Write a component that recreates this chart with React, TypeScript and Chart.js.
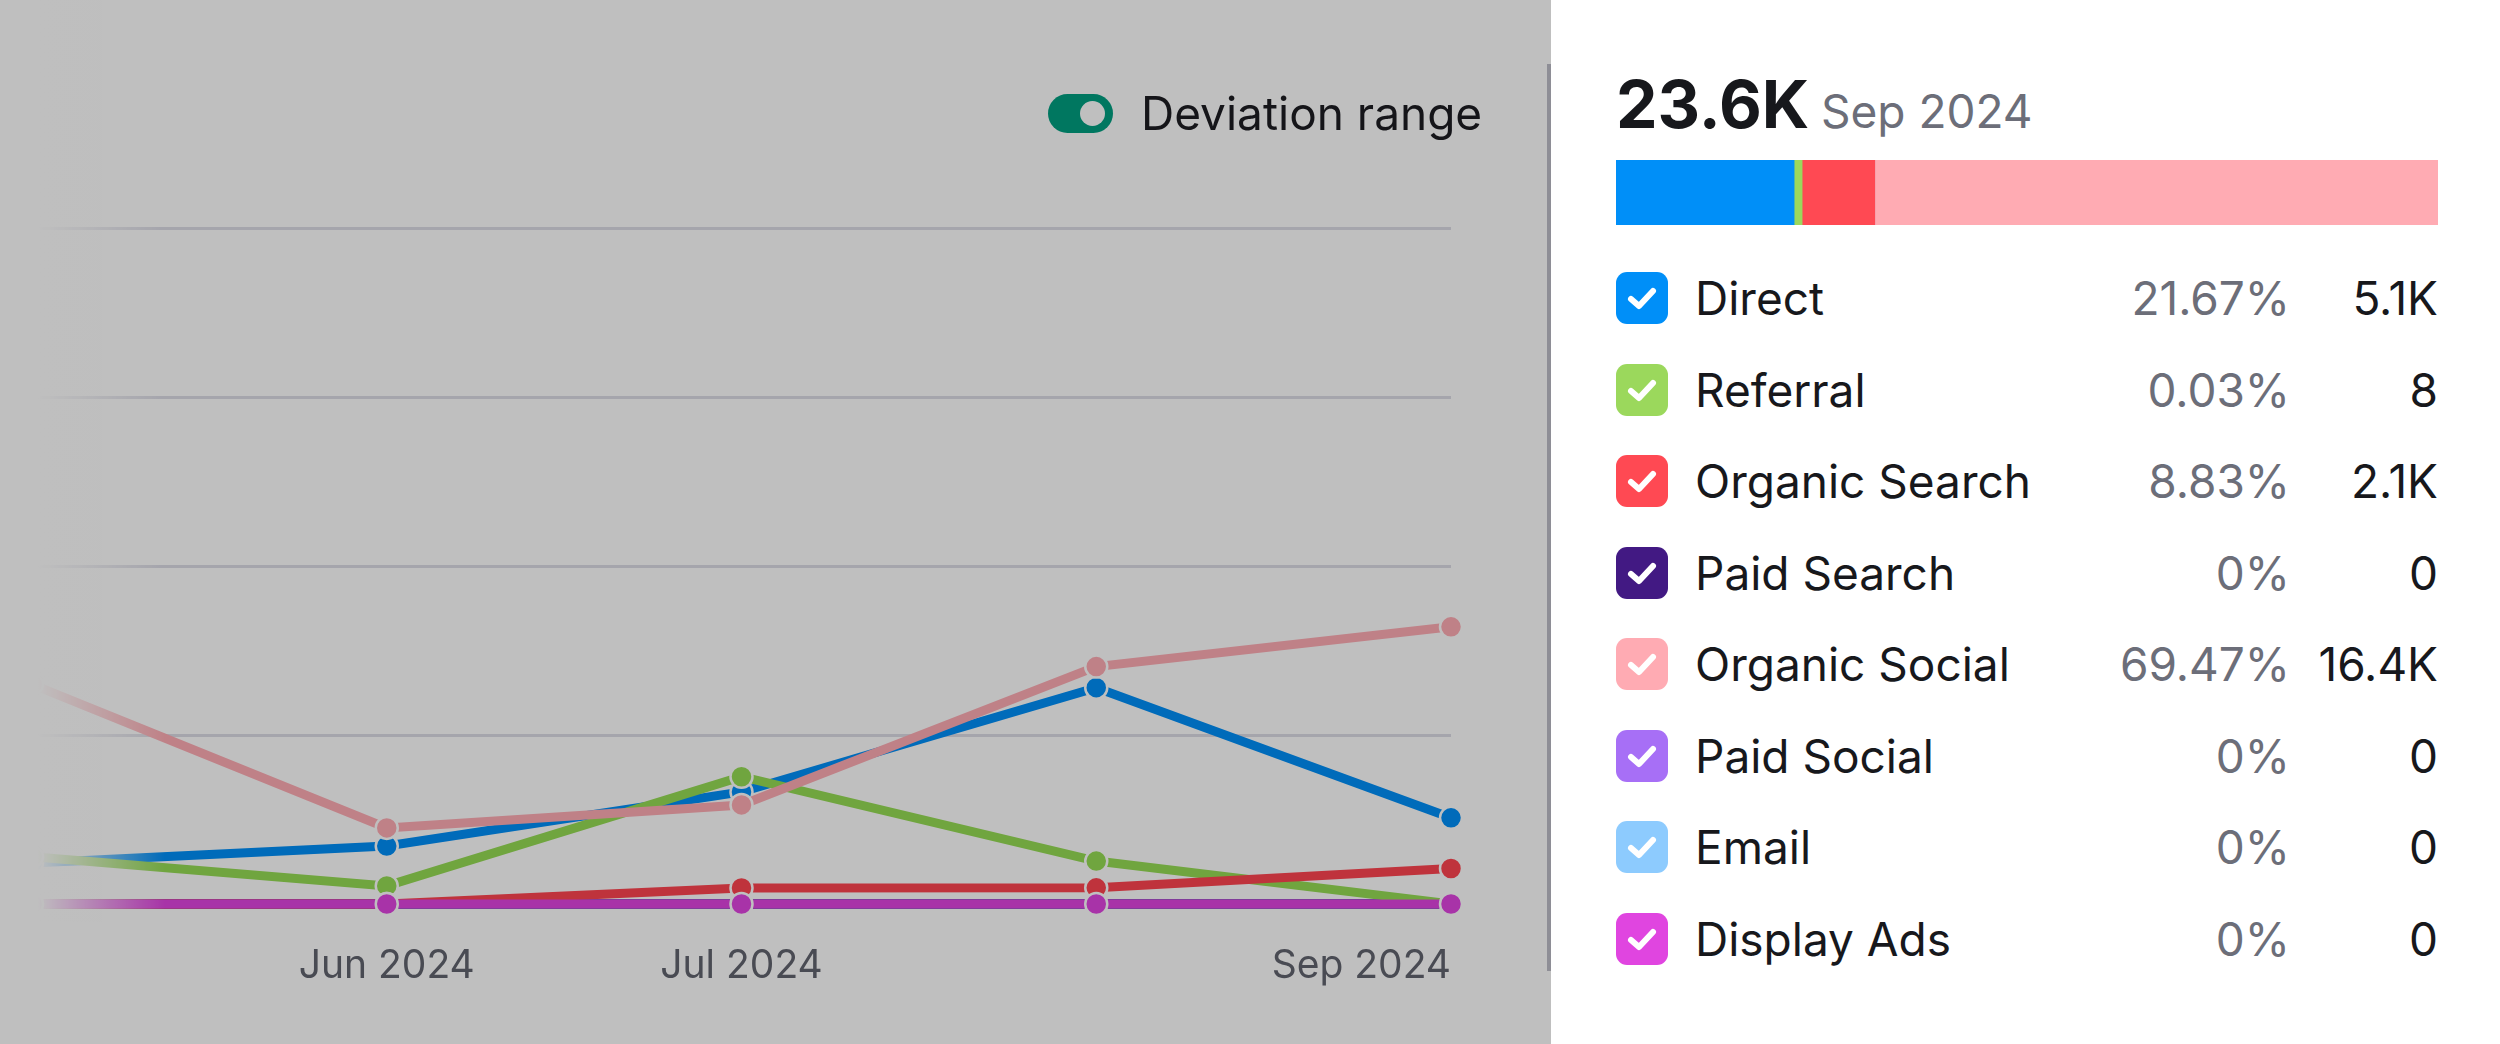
import React, { useEffect, useRef } from "react";
import { Chart, registerables } from "chart.js";

Chart.register(...registerables);

// ---------- data ----------
const months = ["May 2024", "Jun 2024", "Jul 2024", "Aug 2024", "Sep 2024"];
const xTickLabels = ["", "Jun 2024", "Jul 2024", "", "Sep 2024"];

const direct = [2430, 3430, 6630, 12800, 5100];
const referral = [2800, 1070, 7530, 2540, 8];
const organicSearch = [0, 0, 950, 960, 2100];
const paidSearch = [0, 0, 0, 0, 0];
const organicSocial = [13000, 4500, 5860, 14050, 16400];
const paidSocial = [0, 0, 0, 0, 0];
const email = [0, 0, 0, 0, 0];
const displayAds = [0, 0, 0, 0, 0];

const yMin = 0;
const yMax = 40000;
const yStep = 10000;

const channelNames = [
  "Direct",
  "Referral",
  "Organic Search",
  "Paid Search",
  "Organic Social",
  "Paid Social",
  "Email",
  "Display Ads",
];
const channelColors = [
  "#008ff8",
  "#9bd85c",
  "#ff4953",
  "#421983",
  "#ffabb3",
  "#a76ff6",
  "#8dcbfe",
  "#e045e0",
];
const lineColors = [
  "#008ff8",
  "#96dc55",
  "#ff4550",
  "#421983",
  "#ffadb5",
  "#a76ff6",
  "#8dcbfe",
  "#e045e0",
];
const drawOrder = [4, 3, 2, 5, 1, 6, 7, 0];
const sharePercent = [21.67, 0.03, 8.83, 0, 69.47, 0, 0, 0];
const shareLabels = ["21.67%", "0.03%", "8.83%", "0%", "69.47%", "0%", "0%", "0%"];
const valueLabels = ["5.1K", "8", "2.1K", "0", "16.4K", "0", "0", "0"];
const totalLabel = "23.6K";
const periodLabel = "Sep 2024";
const toggleLabel = "Deviation range";

const series = [direct, referral, organicSearch, paidSearch, organicSocial, paidSocial, email, displayAds];

const FONT = "Inter, 'Noto Sans', sans-serif";

const leftFade = {
  id: "leftFade",
  afterDatasetsDraw(chart: any) {
    const { ctx, chartArea } = chart;
    const g = ctx.createLinearGradient(38, 0, 165, 0);
    g.addColorStop(0, "rgba(255,255,255,1)");
    g.addColorStop(1, "rgba(255,255,255,0)");
    ctx.save();
    ctx.fillStyle = g;
    ctx.fillRect(0, 0, 170, chartArea.bottom + 18);
    ctx.restore();
  },
};

function LineChart() {
  const ref = useRef<HTMLCanvasElement | null>(null);
  useEffect(() => {
    if (!ref.current) return;
    const chart = new Chart(ref.current, {
      type: "line",
      data: {
        labels: months,
        datasets: channelNames.map((name, i) => ({
          label: name,
          data: series[i],
          borderColor: lineColors[i],
          backgroundColor: lineColors[i],
          pointBackgroundColor: lineColors[i],
          pointBorderColor: "#ffffff",
          pointBorderWidth: 2.5,
          pointRadius: 11,
          borderWidth: 9,
          tension: 0,
          fill: false,
          clip: false as any,
          order: drawOrder[i],
        })),
      },
      options: {
        animation: false,
        responsive: false,
        maintainAspectRatio: false,
        layout: { padding: { left: 32, right: 100, top: 228, bottom: 0 } },
        plugins: { legend: { display: false }, tooltip: { enabled: false } },
        scales: {
          x: {
            grid: {
              display: true,
              drawOnChartArea: false,
              drawTicks: true,
              tickLength: 37,
              color: "rgba(0,0,0,0)",
            },
            border: { display: false },
            ticks: {
              autoSkip: false,
              maxRotation: 0,
              align: "inner",
              padding: 2,
              color: "#62646f",
              font: { family: FONT, size: 39 },
              callback: (_v: any, i: number) => xTickLabels[i],
            },
            afterFit: (s: any) => {
              s.height = 140;
            },
          },
          y: {
            min: yMin,
            max: yMax,
            ticks: { display: false, stepSize: yStep },
            grid: { color: "#dcdce6", lineWidth: 3, drawTicks: false },
            border: { display: false },
            afterFit: (s: any) => {
              s.width = 0;
            },
          },
        },
      } as any,
      plugins: [leftFade],
    });
    return () => chart.destroy();
  }, []);
  return (
    <canvas
      ref={ref}
      width={1551}
      height={1044}
      style={{ position: "absolute", left: 0, top: 0, width: 1551, height: 1044 }}
    />
  );
}

function ShareBar() {
  const ref = useRef<HTMLCanvasElement | null>(null);
  useEffect(() => {
    if (!ref.current) return;
    const chart = new Chart(ref.current, {
      type: "bar",
      data: {
        labels: [periodLabel],
        datasets: channelNames.map((name, i) => ({
          label: name,
          data: [sharePercent[i]],
          backgroundColor: channelColors[i],
          borderWidth: 0,
          barPercentage: 1,
          categoryPercentage: 1,
          minBarLength: sharePercent[i] > 0 && sharePercent[i] < 1 ? 8 : 0,
        })),
      },
      options: {
        indexAxis: "y",
        animation: false,
        responsive: false,
        maintainAspectRatio: false,
        layout: { padding: 0 },
        plugins: { legend: { display: false }, tooltip: { enabled: false } },
        scales: {
          x: { stacked: true, min: 0, max: 100, display: false },
          y: { stacked: true, display: false },
        },
      } as any,
    });
    return () => chart.destroy();
  }, []);
  return (
    <canvas
      ref={ref}
      width={822}
      height={65}
      style={{ position: "absolute", left: 1616, top: 160, width: 822, height: 65 }}
    />
  );
}

function Check({ color }: { color: string }) {
  return (
    <div
      style={{
        position: "absolute",
        left: 0,
        top: 0,
        width: 52,
        height: 52,
        borderRadius: 11,
        background: color,
      }}
    >
      <svg width="52" height="52" viewBox="0 0 52 52" style={{ display: "block" }}>
        <path
          d="M15 27 L23 34 L37 19"
          fill="none"
          stroke="#ffffff"
          strokeWidth="6"
          strokeLinecap="round"
          strokeLinejoin="round"
        />
      </svg>
    </div>
  );
}

const ROW_FONT = 46;

export default function App() {
  return (
    <div
      style={{
        position: "fixed",
        left: 0,
        top: 0,
        width: 2500,
        height: 1044,
        background: "#ffffff",
        overflow: "hidden",
        fontFamily: FONT,
      }}
    >
      {/* left panel */}
      <div style={{ position: "absolute", left: 0, top: 0, width: 1551, height: 1044, background: "#ffffff" }}>
        <LineChart />
        {/* toggle */}
        <div
          style={{
            position: "absolute",
            left: 1048,
            top: 94,
            width: 65,
            height: 39,
            borderRadius: 20,
            background: "#009f81",
          }}
        >
          <div
            style={{
              position: "absolute",
              left: 32,
              top: 7,
              width: 25,
              height: 25,
              borderRadius: "50%",
              background: "#ffffff",
            }}
          />
        </div>
        <div
          style={{
            position: "absolute",
            left: 1141,
            top: 90,
            fontSize: 46,
            lineHeight: "46px",
            color: "#1c1c22",
            whiteSpace: "nowrap",
          }}
        >
          {toggleLabel}
        </div>
        {/* scrollbar / separator */}
        <div style={{ position: "absolute", left: 1547, top: 64, width: 4, height: 907, background: "#bebec8" }} />
        {/* dim overlay */}
        <div
          style={{
            position: "absolute",
            left: 0,
            top: 0,
            width: 1551,
            height: 1044,
            background: "rgba(0,0,0,0.25)",
            pointerEvents: "none",
          }}
        />
      </div>

      {/* right panel */}
      <div
        style={{
          position: "absolute",
          left: 1616,
          top: 71,
          fontSize: 66,
          lineHeight: "66px",
          fontWeight: 700,
          color: "#17181c",
          whiteSpace: "nowrap",
        }}
      >
        {totalLabel}
      </div>
      <div
        style={{
          position: "absolute",
          left: 1821,
          top: 88,
          fontSize: 46,
          lineHeight: "46px",
          color: "#6c6e79",
          whiteSpace: "nowrap",
        }}
      >
        {periodLabel}
      </div>
      <ShareBar />
      {channelNames.map((name, i) => (
        <div
          key={name}
          style={{
            position: "absolute",
            left: 1616,
            top: 272 + i * 91.5,
            width: 822,
            height: 52,
          }}
        >
          <Check color={channelColors[i]} />
          <div
            style={{
              position: "absolute",
              left: 79,
              top: 3,
              fontSize: ROW_FONT,
              lineHeight: "46px",
              color: "#17181c",
              whiteSpace: "nowrap",
            }}
          >
            {name}
          </div>
          <div
            style={{
              position: "absolute",
              right: 148,
              top: 3,
              fontSize: ROW_FONT,
              lineHeight: "46px",
              color: "#6c6e79",
              whiteSpace: "nowrap",
              textAlign: "right",
            }}
          >
            {shareLabels[i]}
          </div>
          <div
            style={{
              position: "absolute",
              right: 0,
              top: 3,
              fontSize: ROW_FONT,
              lineHeight: "46px",
              color: "#17181c",
              whiteSpace: "nowrap",
              textAlign: "right",
            }}
          >
            {valueLabels[i]}
          </div>
        </div>
      ))}
    </div>
  );
}
